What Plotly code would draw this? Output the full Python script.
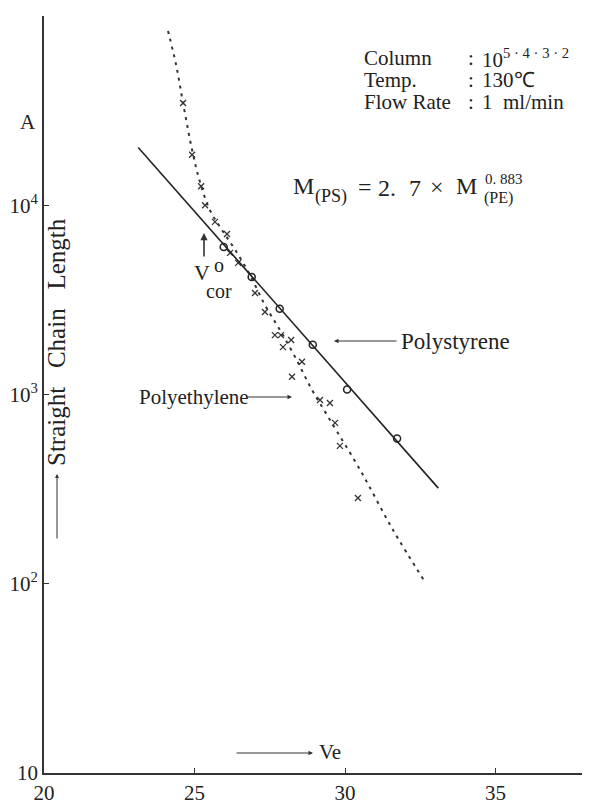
import plotly.graph_objects as go

# ---------------- data ----------------
# Polystyrene calibration points (Ve, straight chain length A)
ps_ve = [25.97, 26.90, 27.83, 28.93, 30.07, 31.73]
ps_len = [6010, 4180, 2840, 1830, 1063, 586]
# Polystyrene fitted straight line
ps_fit_ve = [23.13, 33.10]
ps_fit_len = [20200, 320]

# Polyethylene measured points
pe_ve = [24.62, 24.92, 25.22, 25.35, 25.68, 26.08, 26.18, 26.45, 27.01, 27.34,
         27.67, 27.87, 28.21, 27.94, 28.57, 28.24, 29.17, 29.50, 29.67, 29.83, 30.43]
pe_len = [34700, 18500, 12600, 10000, 8170, 7050, 5600, 4960, 3440, 2730,
          2060, 2060, 1940, 1780, 1490, 1240, 936, 902, 708, 535, 284]
# Polyethylene smooth dashed curve
pe_curve_ve = [24.12, 24.39, 24.62, 24.92, 25.18, 25.51, 25.91, 26.35, 26.84, 27.34,
               27.84, 28.34, 28.90, 29.50, 30.50, 31.59, 32.66]
pe_curve_len = [83400, 55100, 34700, 19600, 13300, 9440, 7410, 5810, 4290, 2970,
                2190, 1580, 1060, 735, 400, 193, 102]

x_ticks = [20, 25, 30, 35]
x_ticktext = ["20", "25", "30", "35"]
y_ticks = [10, 100, 1000, 10000, 100000]
y_ticktext = ["10", "10<sup>2</sup>", "10<sup>3</sup>", "10<sup>4</sup>", "10<sup>5</sup>"]

# ---------------- layout geometry ----------------
# the page body has an 8px margin, so the figure starts at (8, 8)
OFF = 8
PX_L, PX_R, PX_T, PX_B = 44, 590, 16, 773      # plot area in page pixels
W, H = 590 - OFF, 806 - OFF
L, T = PX_L - OFF, PX_T - OFF
R = (OFF + W) - PX_R
B = (OFF + H) - PX_B
PW, PH = PX_R - PX_L, PX_B - PX_T
FONT = "Liberation Serif"
INK = "#222222"


def P(px, py):
    return (px - PX_L) / PW, (PX_B - py) / PH


fig = go.Figure()

fig.add_trace(go.Scatter(x=pe_curve_ve, y=pe_curve_len, mode="lines",
                         line=dict(color="#333333", width=2, dash="3px,5px", shape="spline"),
                         hoverinfo="skip", showlegend=False))
fig.add_trace(go.Scatter(x=pe_ve, y=pe_len, mode="markers",
                         marker=dict(symbol="x-thin", size=6, line=dict(color="#333333", width=1.3)),
                         showlegend=False))
fig.add_trace(go.Scatter(x=ps_fit_ve, y=ps_fit_len, mode="lines",
                         line=dict(color=INK, width=1.6), showlegend=False))
fig.add_trace(go.Scatter(x=ps_ve, y=ps_len, mode="markers",
                         marker=dict(symbol="circle-open", size=7, color=INK,
                                     line=dict(width=1.5, color=INK)),
                         showlegend=False))

ann = []


def text(px, py, s, size=21, xanchor="left", angle=0):
    x, y = P(px, py)
    ann.append(dict(x=x, y=y, xref="paper", yref="paper", text=s, showarrow=False,
                    xanchor=xanchor, yanchor="middle", textangle=angle,
                    font=dict(family=FONT, size=size, color=INK)))


def arrow(x0, y0, x1, y1, w=1.0, hs=1.0):
    # arrow from (x0,y0) to head at (x1,y1), page pixel coords
    x, y = P(x1, y1)
    ann.append(dict(x=x, y=y, xref="paper", yref="paper", text="", showarrow=True,
                    ax=x0 - x1, ay=y0 - y1, axref="pixel", ayref="pixel",
                    arrowhead=2, arrowsize=hs, arrowwidth=w, arrowcolor="#333333",
                    standoff=0, startstandoff=0))


# top-right info block
text(362, 58, "Column", 21)
text(362, 80, "Temp.", 21)
text(362, 102, "Flow Rate", 21)
text(466, 58, ":", 21)
text(466, 80, ":", 21)
text(466, 102, ":", 21)
text(480, 58, "10<sup>5 · 4 · 3 · 2</sup>", 21)
text(480, 80, "130℃", 21)
text(480, 102, "1  ml/min", 21)

# formula  M(PS) = 2.7 x M(PE)^0.883
text(291, 186, "M", 24)
text(313, 196, "(PS)", 18)
text(356, 187, "=", 24)
text(376, 188, "2.", 24)
text(407, 188, "7", 24)
text(428, 187, "×", 24)
text(454, 186, "M", 24)
text(482, 198, "(PE)", 16)
text(483, 179, "0. 883", 15)

# A label
text(28, 122, "A", 21, xanchor="center")

# y axis title
text(57, 342, "Straight   Chain   Length", 25, xanchor="center", angle=-90)
arrow(57, 540, 57, 474, w=1.0, hs=0.8)

# Vo cor
arrow(204, 258, 204, 233, w=1.6, hs=0.9)
text(192, 272, "V", 22)
text(212, 265, "o", 20)
text(204, 291, "cor", 20)

# Polystyrene label
text(399, 342, "Polystyrene", 23)
arrow(398, 341, 334, 341, w=1.0, hs=0.9)

# Polyethylene label
text(137, 397, "Polyethylene", 21)
arrow(246, 397, 292, 397, w=1.0, hs=0.9)

# Ve label
text(317, 752, "Ve", 21)
arrow(235, 753, 313, 753, w=1.0, hs=0.9)

fig.update_layout(
    width=W, height=H,
    margin=dict(l=L, r=R, t=T, b=B, pad=0),
    paper_bgcolor="white", plot_bgcolor="white",
    font=dict(family=FONT, size=21, color=INK),
    annotations=ann,
    showlegend=False,
)
fig.update_xaxes(range=[20, 20 + PW / 30.1], tickvals=x_ticks, ticktext=x_ticktext,
                 showgrid=False, zeroline=False, showline=True, linecolor="#333333",
                 linewidth=1.8, ticks="inside", ticklen=5, tickcolor="#333333",
                 tickfont=dict(family=FONT, size=21))
fig.update_yaxes(type="log", range=[1, 5], tickvals=y_ticks, ticktext=y_ticktext,
                 showgrid=False, zeroline=False, showline=True, linecolor="#333333",
                 linewidth=1.8, ticks="inside", ticklen=5, tickcolor="#333333",
                 tickfont=dict(family=FONT, size=21), ticklabelstandoff=0)

fig.write_html("out.html")
